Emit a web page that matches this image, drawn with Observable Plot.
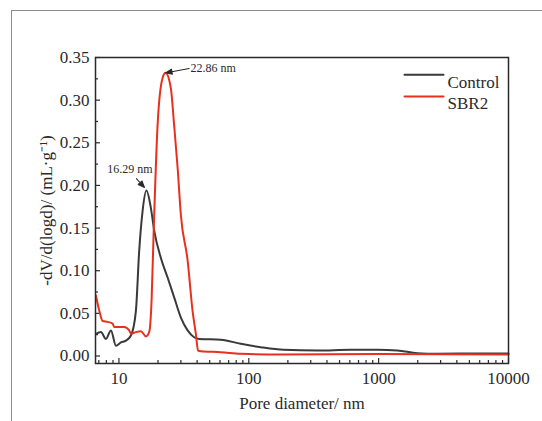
<!DOCTYPE html>
<html><head><meta charset="utf-8">
<script src="https://cdn.jsdelivr.net/npm/d3@7"></script>
<script src="https://cdn.jsdelivr.net/npm/@observablehq/plot@0.6"></script>
<style>
body{margin:0;background:#fff;}
#wrap{position:relative;width:542px;height:421px;overflow:hidden;background:#fff;}
#border{position:absolute;left:11px;top:10px;width:600px;height:500px;border:1.5px solid #8c8c8c;}
#chart{position:absolute;left:0;top:0;}
#chart svg, #chart svg text, #chart svg g {font-family: "Liberation Serif", "Times New Roman", serif !important;}
</style></head><body>
<div id="wrap"><div id="border"></div><div id="chart"></div></div>
<script>
// Control series
const controlD = [6.65, 7.27, 7.94, 8.68, 9.48, 10.36, 11.32, 12.37, 13.51, 14.32, 15.21, 16.29, 17.6, 18.69, 21.04, 23.7, 26.6, 30.0, 33.8, 37.9, 41.5, 61, 86.8, 123.7, 185.8, 337, 609, 977, 1393, 1986, 2831, 6457, 10000];
const controlV = [0.026, 0.028, 0.020, 0.030, 0.012, 0.016, 0.018, 0.024, 0.053, 0.123, 0.17, 0.194, 0.174, 0.147, 0.115, 0.092, 0.069, 0.045, 0.030, 0.022, 0.020, 0.019, 0.0143, 0.0103, 0.0072, 0.0064, 0.0072, 0.0072, 0.0064, 0.0033, 0.0026, 0.003, 0.003];
// SBR2 series
const sbrD = [6.65, 7.06, 7.49, 8.19, 8.94, 9.20, 10.98, 12.0, 12.37, 13.51, 14.76, 16.13, 17.1, 17.84, 18.49, 19.85, 21.68, 22.86, 25.1, 26.6, 28.3, 30.0, 33.8, 36.9, 39.1, 40.7, 42.8, 61, 86.8, 176, 1000, 10000];
const sbrV = [0.071, 0.053, 0.041, 0.040, 0.038, 0.034, 0.034, 0.030, 0.026, 0.028, 0.029, 0.023, 0.028, 0.065, 0.143, 0.271, 0.326, 0.332, 0.314, 0.271, 0.221, 0.165, 0.112, 0.053, 0.026, 0.0064, 0.0056, 0.0045, 0.0026, 0.0018, 0.0022, 0.0018];

const seriesNames = ["Control", "SBR2"];
const seriesColors = ["#3a3a3a", "#e8301c"];

const xMajor = [10, 100, 1000, 10000];
const xMinor = [7, 8, 9, 20, 30, 40, 50, 60, 70, 80, 90, 200, 300, 400, 500, 600, 700, 800, 900, 2000, 3000, 4000, 5000, 6000, 7000, 8000, 9000];
const yMajor = [0, 0.05, 0.10, 0.15, 0.20, 0.25, 0.30, 0.35];
const yMinor = [0.025, 0.075, 0.125, 0.175, 0.225, 0.275, 0.325];

const peakD = [22.86, 16.29];
const peakV = [0.332, 0.194];
const peakLabels = ["22.86 nm", "16.29 nm"];

const control = controlD.map((d, i) => ({d, v: controlV[i]}));
const sbr = sbrD.map((d, i) => ({d, v: sbrV[i]}));

const lineShape = {draw(ctx, l) { ctx.moveTo(0, 0); ctx.lineTo(0, -l); }};
const arrowShape = {draw(ctx, l) {
  ctx.moveTo(0, 0); ctx.lineTo(0, -l + 5);
  ctx.moveTo(0, -l); ctx.lineTo(-2.6, -l + 6.5); ctx.lineTo(2.6, -l + 6.5); ctx.closePath();
}};

const ink = "#2a2a2a";
const serif = "'Liberation Serif', 'Times New Roman', serif";

const chart = Plot.plot({
  width: 542, height: 421,
  marginLeft: 95, marginRight: 34, marginTop: 57, marginBottom: 58,
  style: {fontFamily: serif, fontSize: "17px", background: "transparent", color: ink},
  x: {type: "log", domain: [6.6, 10000]},
  y: {domain: [-0.0088, 0.35]},
  marks: [
    // tick labels + titles
    Plot.axisX({ticks: xMajor, tickSize: 0, tickPadding: 8, tickFormat: d => String(d), label: "Pore diameter/ nm", labelAnchor: "center", labelOffset: 45, labelArrow: "none", fontSize: 17, fontFamily: serif}),
    Plot.axisY({ticks: yMajor, tickSize: 0, tickPadding: 6, tickFormat: d3.format(".2f"), label: "-dV/d(logd)/ (mL·g⁻¹)", labelAnchor: "center", labelOffset: 56, labelArrow: "none", fontSize: 17, fontFamily: serif}),
    // inward ticks
    Plot.axisX({ticks: xMajor, tickSize: 5, dy: -5, tickFormat: () => "", label: null, stroke: ink, strokeWidth: 1.2}),
    Plot.axisX({ticks: xMinor, tickSize: 3, dy: -3, tickFormat: () => "", label: null, stroke: ink, strokeWidth: 1.2}),
    Plot.axisY({ticks: yMajor, tickSize: 5, dx: 5, tickFormat: () => "", label: null, stroke: ink, strokeWidth: 1.2}),
    Plot.axisY({ticks: yMinor, tickSize: 3, dx: 3, tickFormat: () => "", label: null, stroke: ink, strokeWidth: 1.2}),
    // curves
    Plot.line(control, {x: "d", y: "v", stroke: seriesColors[0], strokeWidth: 2, curve: "monotone-x"}),
    Plot.line(sbr, {x: "d", y: "v", stroke: seriesColors[1], strokeWidth: 2, curve: "monotone-x"}),
    Plot.frame({stroke: ink, strokeWidth: 1.5}),
    // legend
    Plot.vector([0], {frameAnchor: "top-right", dx: -104, dy: 17.3, length: 39, rotate: 90, anchor: "start", shape: lineShape, stroke: seriesColors[0], strokeWidth: 2}),
    Plot.vector([0], {frameAnchor: "top-right", dx: -104, dy: 39, length: 39, rotate: 90, anchor: "start", shape: lineShape, stroke: seriesColors[1], strokeWidth: 2}),
    Plot.text([seriesNames[0]], {frameAnchor: "top-right", dx: -61, dy: 18, text: d => d, textAnchor: "start", fontSize: 17, fontFamily: serif, fill: ink}),
    Plot.text([seriesNames[1]], {frameAnchor: "top-right", dx: -61, dy: 39.7, text: d => d, textAnchor: "start", fontSize: 17, fontFamily: serif, fill: ink}),
    // peak annotations
    Plot.vector([0], {x: () => peakD[0], y: () => peakV[0], rotate: 259.4, length: 24, anchor: "end", shape: arrowShape, stroke: ink, fill: ink, strokeWidth: 1}),
    Plot.text([peakLabels[0]], {x: () => peakD[0], y: () => peakV[0], text: d => d, dx: 25, dy: -5, textAnchor: "start", fontSize: 12, fontFamily: serif, fill: ink}),
    Plot.vector([0], {x: () => peakD[1], y: () => peakV[1], rotate: 138, length: 12, anchor: "end", dx: -2, dy: -3, shape: arrowShape, stroke: ink, fill: ink, strokeWidth: 1}),
    Plot.text([peakLabels[1]], {x: () => peakD[1], y: () => peakV[1], text: d => d, dx: -16.5, dy: -21.7, textAnchor: "middle", fontSize: 12, fontFamily: serif, fill: ink})
  ]
});
document.getElementById("chart").appendChild(chart);
</script>
</body></html>
